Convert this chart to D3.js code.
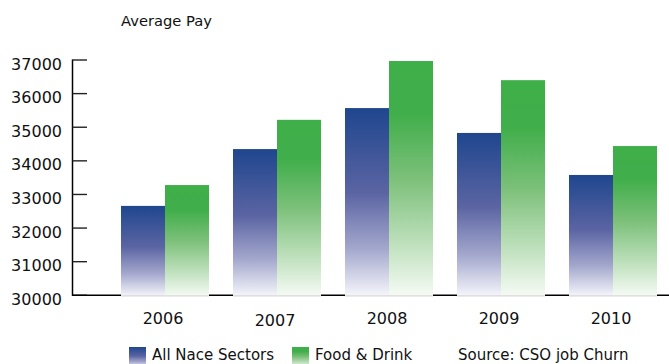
<!DOCTYPE html>
<html>
<head>
<meta charset="utf-8">
<script src="https://cdn.jsdelivr.net/npm/d3@7"></script>
<style>
  body { margin: 0; background: #fff; }
  text { font-family: "DejaVu Sans", sans-serif; fill: #111; }
</style>
</head>
<body>
<script>
const years = ['2006', '2007', '2008', '2009', '2010']
const seriesNames = ['All Nace Sectors', 'Food & Drink']
const allNace = [32660, 34350, 35570, 34830, 33580]
const foodDrink = [33280, 35220, 36970, 36400, 34440]
const yTicks = [30000, 31000, 32000, 33000, 34000, 35000, 36000, 37000]

const width = 669
const height = 364

const svg = d3.select('body').append('svg')
  .attr('width', width)
  .attr('height', height)

const defs = svg.append('defs')
const blueGrad = defs.append('linearGradient')
  .attr('id', 'blue').attr('x1', 0).attr('y1', 0).attr('x2', 0).attr('y2', 1)
blueGrad.selectAll('stop')
  .data([[0, '#1f468e'], [0.45, '#5b64a3'], [0.75, '#a4a8cd'], [1, '#f6f6fb']])
  .enter().append('stop')
  .attr('offset', d => d[0]).attr('stop-color', d => d[1])

const greenGrad = defs.append('linearGradient')
  .attr('id', 'green').attr('x1', 0).attr('y1', 0).attr('x2', 0).attr('y2', 1)
greenGrad.selectAll('stop')
  .data([[0, '#3faf4a'], [0.22, '#40ae4a'], [0.5, '#7cc07a'], [0.8, '#c4e3c2'], [1, '#f6fbf5']])
  .enter().append('stop')
  .attr('offset', d => d[0]).attr('stop-color', d => d[1])

const x = d3.scaleBand()
  .domain(years)
  .range([109, 669])
  .paddingInner(0.214)
  .paddingOuter(0.107)

const xSub = d3.scaleBand()
  .domain(seriesNames)
  .range([0, x.bandwidth()])

const y = d3.scaleLinear()
  .domain([30000, 37000])
  .range([295.3, 60])

// y axis: line + ticks pointing right
const yAxis = svg.append('g')
yAxis.append('line')
  .attr('x1', 72.5).attr('x2', 72.5)
  .attr('y1', y(37000) - 0.5).attr('y2', y(30000) + 0.5)
  .attr('stroke', '#000').attr('stroke-width', 1.5)
yAxis.selectAll('.tick')
  .data(yTicks).enter()
  .append('line')
  .attr('x1', 72.5).attr('x2', 87)
  .attr('y1', d => y(d)).attr('y2', d => y(d))
  .attr('stroke', '#222').attr('stroke-width', 1.4)
yAxis.selectAll('.lbl')
  .data(yTicks).enter()
  .append('text')
  .attr('x', 62).attr('y', d => y(d) + 9.5)
  .attr('text-anchor', 'end')
  .style('font-size', '16px')
  .text(d => d)

// x axis line
svg.append('line')
  .attr('x1', 72).attr('x2', width)
  .attr('y1', y(30000)).attr('y2', y(30000))
  .attr('stroke', '#000').attr('stroke-width', 1.5)

const rows = years.map((yr, i) => ({ year: yr, values: [allNace[i], foodDrink[i]] }))

const groups = svg.selectAll('.grp')
  .data(rows).enter()
  .append('g')
  .attr('transform', d => `translate(${x(d.year)},0)`)

groups.selectAll('rect')
  .data(d => d.values.map((v, j) => ({ name: seriesNames[j], value: v })))
  .enter().append('rect')
  .attr('x', d => xSub(d.name))
  .attr('y', d => y(d.value))
  .attr('width', xSub.bandwidth())
  .attr('height', d => y(30000) - y(d.value) + 1)
  .attr('fill', (d, j) => j === 0 ? 'url(#blue)' : 'url(#green)')

groups.append('line')
  .attr('x1', 0).attr('x2', x.bandwidth())
  .attr('y1', y(30000) + 0.5).attr('y2', y(30000) + 0.5)
  .attr('stroke', '#d8d8d8').attr('stroke-width', 1.2)

svg.selectAll('.xlbl')
  .data(years).enter()
  .append('text')
  .attr('x', d => x(d) + x.bandwidth() / 2 - 2)
  .attr('y', (d, i) => i === 1 ? 326 : 324)
  .attr('text-anchor', 'middle')
  .style('font-size', '16px')
  .text(d => d)

// title
svg.append('text')
  .attr('x', 121).attr('y', 26)
  .style('font-size', '14.7px')
  .text('Average Pay')

// legend
const legend = svg.append('g')
const legendX = [129, 292]
seriesNames.forEach((name, i) => {
  legend.append('rect')
    .attr('x', legendX[i]).attr('y', 347)
    .attr('width', 17).attr('height', 20)
    .attr('fill', i === 0 ? 'url(#blue)' : 'url(#green)')
  legend.append('text')
    .attr('x', legendX[i] + 23).attr('y', 360)
    .style('font-size', '15px')
    .text(name)
})
legend.append('text')
  .attr('x', 458).attr('y', 360)
  .style('font-size', '15px')
  .text('Source: CSO job Churn')
</script>
</body>
</html>
